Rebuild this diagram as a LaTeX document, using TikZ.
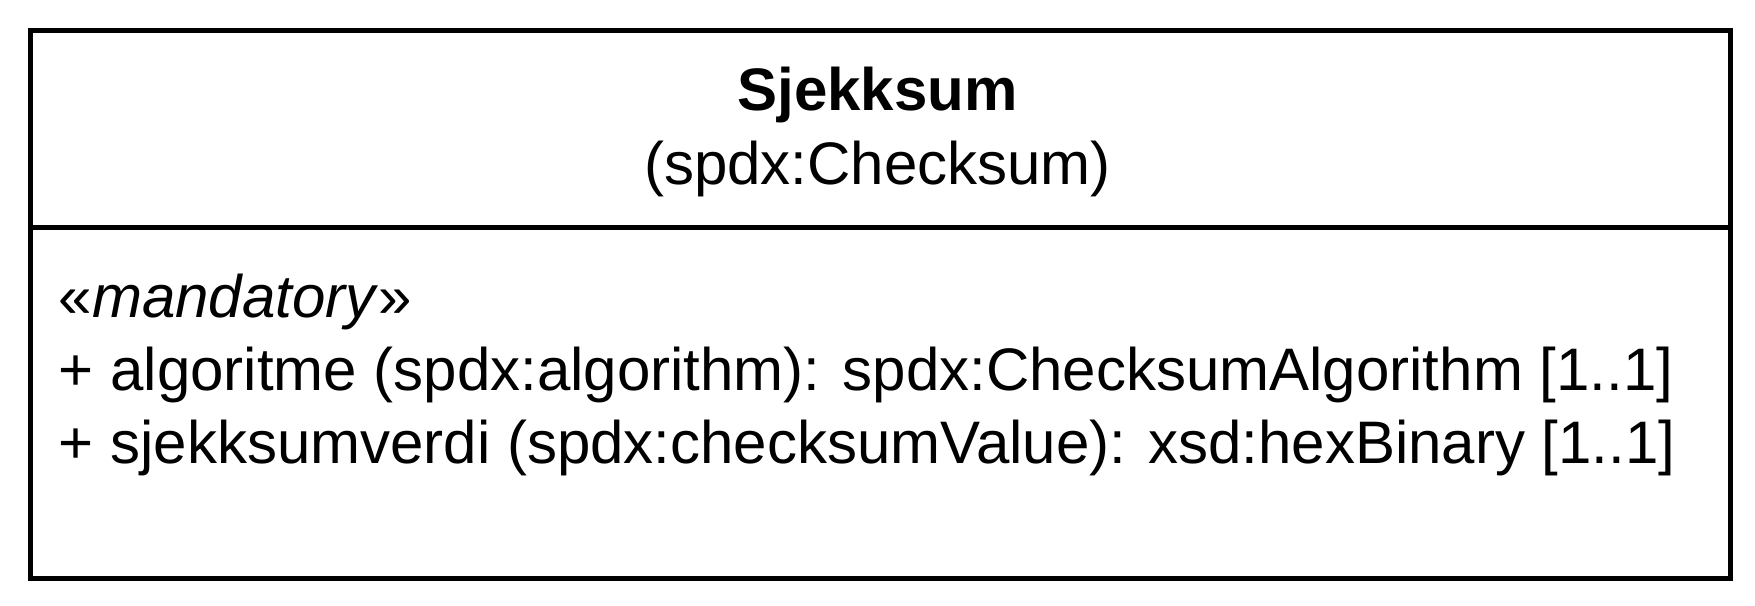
\documentclass[tikz,border=0pt]{standalone}
\usepackage{fontspec}
\setmainfont{Liberation Sans}
\usepackage{tikz}
\usetikzlibrary{positioning, calc}

\begin{document}
\begin{tikzpicture}[x=1pt, y=-1pt, line width=5.5pt,
    umltext/.style={inner sep=0pt, font=\fontsize{60}{73}\selectfont}]
  \useasboundingbox (0,0) rectangle (1755,605);
  \node[draw, anchor=north west, inner sep=0pt, minimum width=1700pt,
    minimum height=548pt] (cls) at (27.5,27.5) {};
  \coordinate (split) at (27.5,227.5);
  \draw (split) -- (split -| cls.east);
  \node[umltext, anchor=base, font=\fontsize{60}{73}\selectfont\bfseries]
    (name) at (877.5,110) {Sjekksum};
  \node[umltext, anchor=base] (iri) at (877.5,184) {(spdx:Checksum)};
  % base anchor sits on the last line
  \node[umltext, anchor=base west, align=left] (attrs) at (56,463)
    {«\textit{mandatory}»\\
     + algoritme (spdx:algorithm): spdx:ChecksumAlgorithm [1..1]\\
     + sjekksumverdi (spdx:checksumValue): xsd:hexBinary [1..1]};
\end{tikzpicture}
\end{document}
